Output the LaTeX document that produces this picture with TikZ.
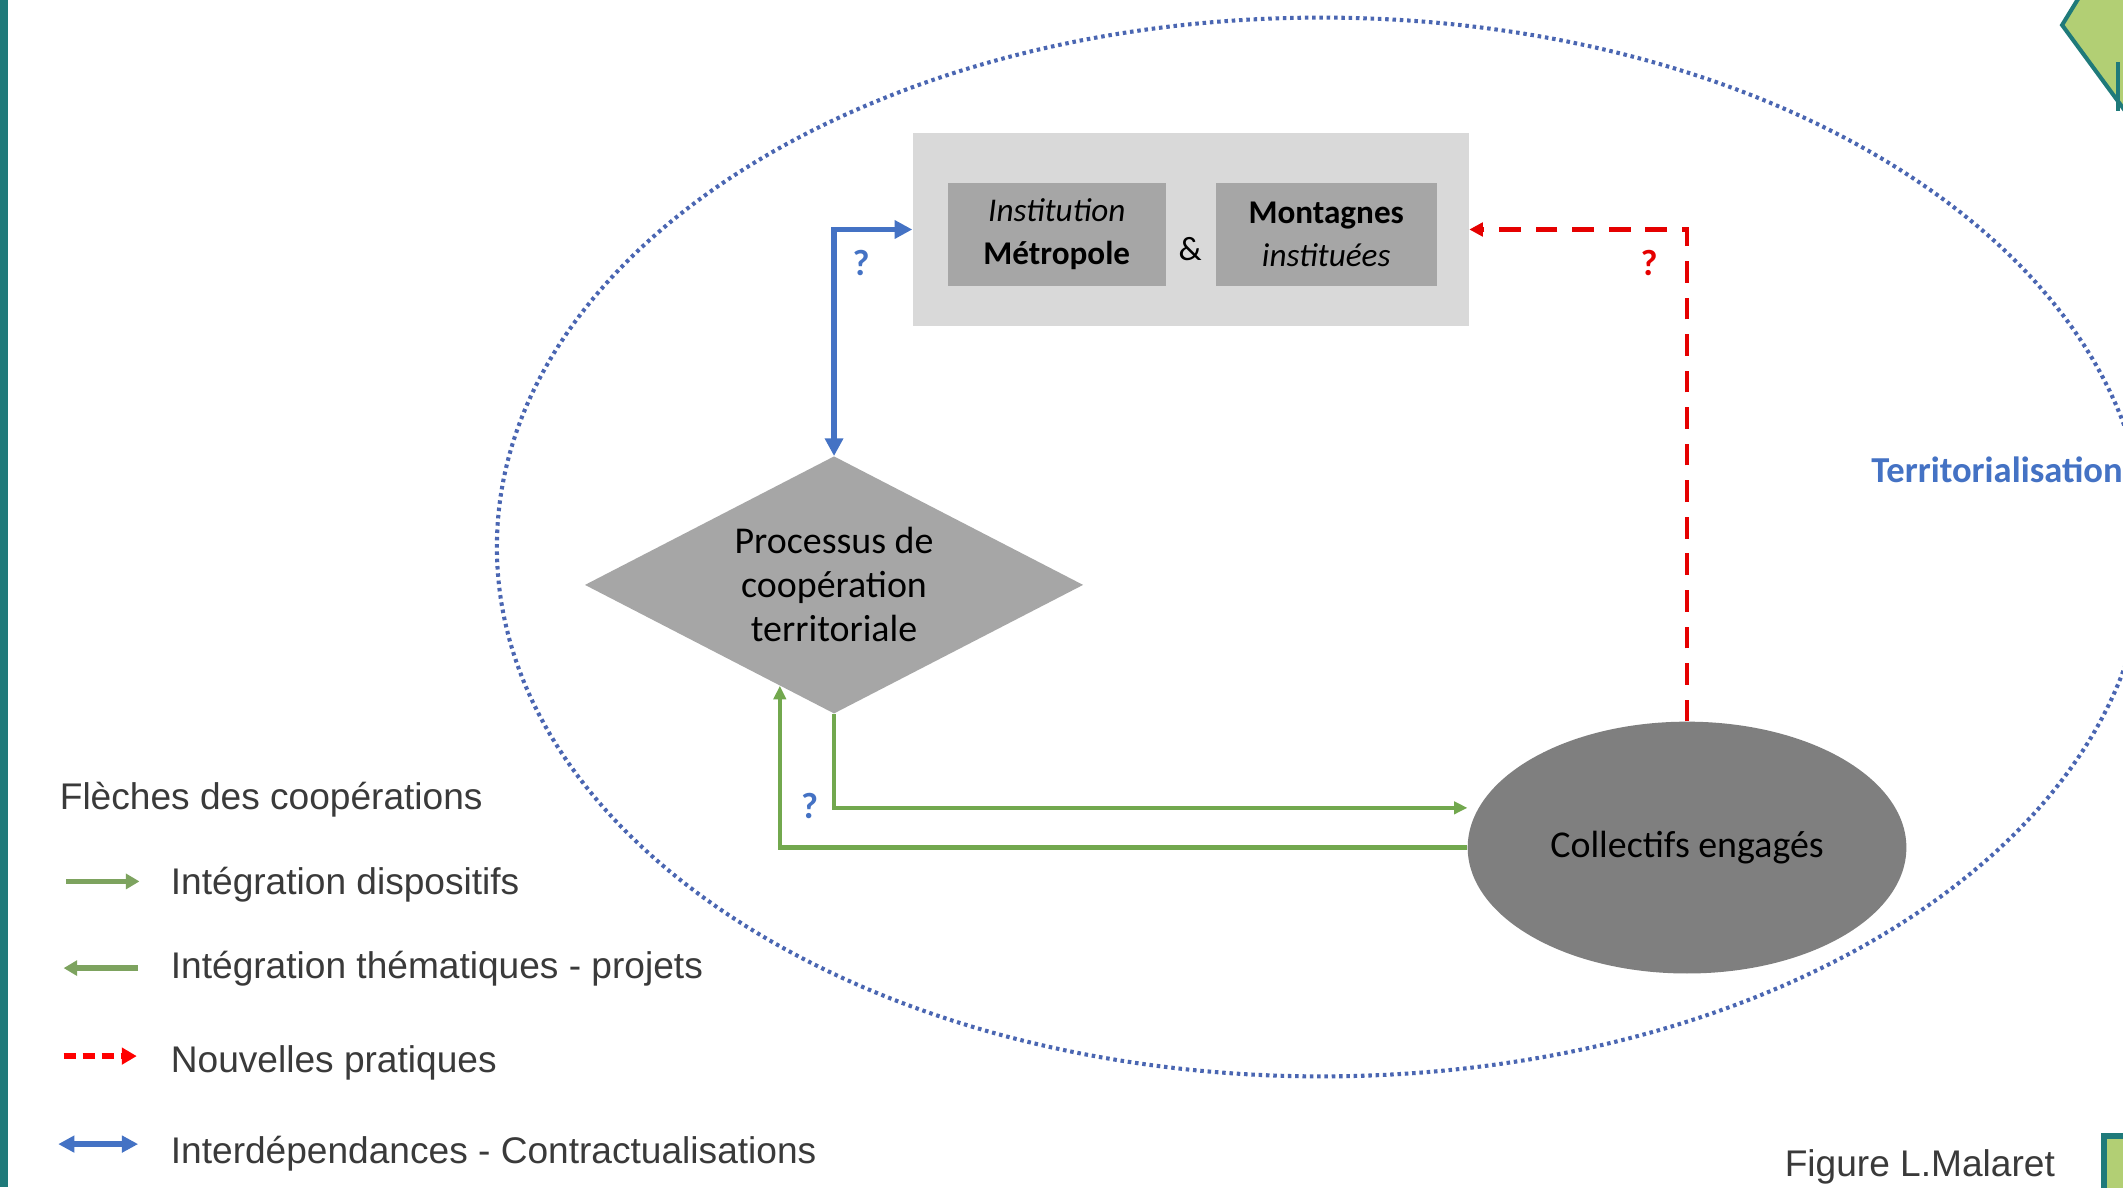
\documentclass[tikz,border=0pt]{standalone}
\usepackage{fontspec}
\setmainfont{Liberation Sans}
\newfontfamily\calf{Carlito}
\usetikzlibrary{shapes.geometric,arrows.meta,calc}
\definecolor{tealc}{HTML}{1F7A7A}
\definecolor{lgreenc}{HTML}{B2CF74}
\definecolor{bluec}{HTML}{4472C4}
\definecolor{dotc}{HTML}{4A66B2}
\definecolor{greenc}{HTML}{72A84E}
\definecolor{leggreen}{HTML}{7DA35F}
\definecolor{redc}{HTML}{E50000}
\definecolor{boxlight}{HTML}{D9D9D9}
\definecolor{boxdark}{HTML}{A6A6A6}
\definecolor{elldark}{HTML}{7F7F7F}
\definecolor{textc}{HTML}{3A3A3A}
\tikzset{
  legtext/.style={anchor=base west, text=textc, inner sep=0pt,
    font=\fontsize{27.4}{33}\selectfont},
  ibox/.style={fill=boxdark, minimum width=161pt, minimum height=76pt,
    inner sep=0pt, align=center, font=\calf\fontsize{24.5}{32}\selectfont},
  qmark/.style={inner sep=0pt, font=\calf\bfseries\fontsize{27}{30}\selectfont},
  bluearrow/.style={draw=bluec, line width=4pt,
    {Triangle[length=13pt,width=13pt]}-{Triangle[length=13pt,width=13pt]}},
  greenarrow/.style={draw=greenc, line width=3.2pt,
    -{Triangle[length=10pt,width=9pt]}},
  redarrow/.style={draw=redc, line width=3.5pt, dash pattern=on 16pt off 11pt,
    -{Triangle[length=10pt,width=10pt]}},
}
\begin{document}
\begin{tikzpicture}[x=1pt,y=-1pt]
\useasboundingbox (0,0) rectangle (1568,877);
\clip (0,0) rectangle (1568,877);
\fill[white] (0,0) rectangle (1568,877);
% left bar
\fill[tealc] (0,0) rectangle (6,877);
% top-right decorative shape
\filldraw[fill=lgreenc, draw=tealc, line width=3pt]
  (1538,-6) -- (1523,18.5) -- (1574,88) -- (1580,-6) -- cycle;
\draw[tealc, line width=3pt] (1564,46) -- (1564,82);
% bottom-right decorative shape
\filldraw[fill=lgreenc, draw=tealc, line width=4pt] (1554,839) rectangle (1590,900);
% big dotted ellipse
\node[ellipse, draw=dotc, line width=3pt, dash pattern=on 2.6pt off 2.8pt,
  minimum width=1218pt, minimum height=782pt, inner sep=0pt] (terr) at (976,404) {};
\node[anchor=base west, text=bluec, inner sep=0pt,
  font=\calf\bfseries\fontsize{27}{32}\selectfont] (terrlab) at (1382,356) {Territorialisation};
% institution box
\node[fill=boxlight, minimum width=411pt, minimum height=143pt, inner sep=0pt] (inst) at (879.5,169.5) {};
\node[ibox] (metro) at (780.5,173) {\textit{Institution}\\\textbf{Métropole}};
\node[ibox, minimum width=163pt] (mont) at (979.5,173) {\textbf{Montagnes}\\\textit{instituées}};
\node[inner sep=0pt, font=\calf\fontsize{25}{30}\selectfont] (amp) at (879,184) {\&};
% diamond
\node[diamond, fill=boxdark, minimum width=368pt, minimum height=190pt, shape aspect=1.937,
  inner sep=0pt, align=center, font=\calf\fontsize{28}{32.5}\selectfont] (proc) at (616,432)
  {Processus de\\coopération\\territoriale};
% ellipse
\node[ellipse, fill=elldark, minimum width=324pt, minimum height=186pt, inner sep=0pt,
  font=\calf\fontsize{28}{32}\selectfont] (coll) at (1246,626) {Collectifs engagés};
% connectors
\draw[bluearrow] (proc.north) |- (inst.west);
\node[qmark, text=bluec] (q1) at (636,194) {?};
\draw[redarrow] (coll.north) |- (inst.east);
\node[qmark, text=redc] (q2) at (1218,194) {?};
\coordinate (collin) at ([xshift=-10pt,yshift=-3pt]coll.168);
\draw[greenarrow] (proc.south) |- (collin);
\coordinate (pin) at ($(proc.west)!0.7826!(proc.south)$);
\draw[greenarrow] (coll.west) -| (pin);
\node[qmark, text=bluec] (q3) at (598,595) {?};
% legend
\node[legtext] (lt0) at (44,598) {Flèches des coopérations};
\coordinate (a1s) at (49,651); \coordinate (a1e) at (103,651);
\draw[leggreen, line width=4pt, -{Triangle[length=10pt,width=11pt]}] (a1s) -- (a1e);
\node[legtext] (lt1) at (126,661) {Intégration dispositifs};
\coordinate (a2s) at (102,715); \coordinate (a2e) at (47,715);
\draw[leggreen, line width=4pt, -{Triangle[length=10pt,width=11pt]}] (a2s) -- (a2e);
\node[legtext] (lt2) at (126,723) {Intégration thématiques - projets};
\coordinate (a3s) at (47,780); \coordinate (a3e) at (101,780);
\draw[red, line width=4pt, dash pattern=on 9pt off 5pt, -{Triangle[length=11pt,width=12pt]}] (a3s) -- (a3e);
\node[legtext] (lt3) at (126,792) {Nouvelles pratiques};
\coordinate (a4s) at (43,845); \coordinate (a4e) at (102,845);
\draw[bluec, line width=4pt, {Triangle[length=12pt,width=12pt]}-{Triangle[length=12pt,width=12pt]}] (a4s) -- (a4e);
\node[legtext] (lt4) at (126,859) {Interdépendances - Contractualisations};
\node[legtext] (fig) at (1318,869) {Figure L.Malaret};
\end{tikzpicture}
\end{document}
